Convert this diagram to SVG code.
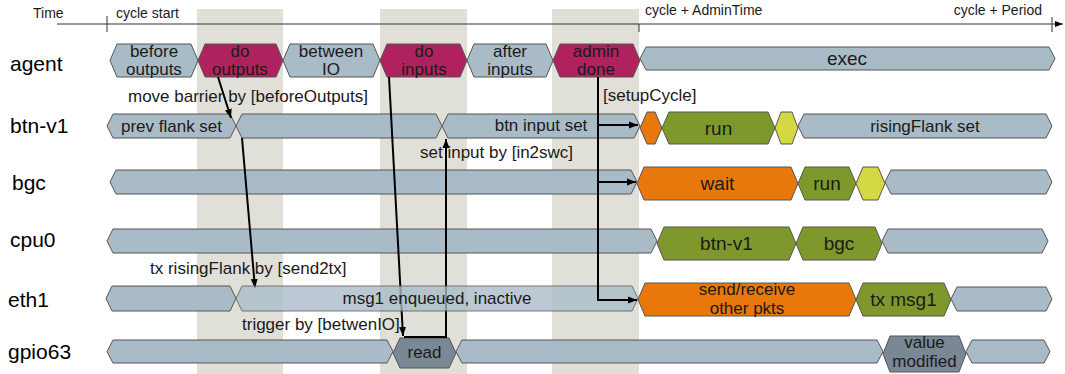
<svg xmlns="http://www.w3.org/2000/svg" width="1065" height="374" viewBox="0 0 1065 374">
<style>
text{font-family:"Liberation Sans",Arial,sans-serif;fill:#1a1a1a}
.ax{font-size:14px}
.lbl{font-size:21px;fill:#000}
.t17{font-size:17px}
.t19{font-size:19px}
.mid{text-anchor:middle}
.b{stroke:#555;stroke-width:1}
.g{fill:#aabbc8}
.m{fill:#b0225e}
.o{fill:#e8780c}
.ol{fill:#7f982c}
.y{fill:#d4d843}
.d{fill:#7a8794}
.col{fill:#e0e0d8}
.cn{fill:none;stroke:#000;stroke-width:2}
</style>
<defs>
<marker id="ah" markerUnits="userSpaceOnUse" markerWidth="9" markerHeight="8" refX="9" refY="4" orient="auto"><path d="M0,0.5 L9,4 L0,7.5 z" fill="#000"/></marker>
<marker id="axh" markerUnits="userSpaceOnUse" markerWidth="8" markerHeight="7" refX="8" refY="3.5" orient="auto"><path d="M0,0.5 L8,3.5 L0,6.5 z" fill="#000"/></marker>
</defs>
<rect width="1065" height="374" fill="#fff"/>
<g id="columns">
<rect class="col" x="197" y="9" width="86" height="365"/>
<rect class="col" x="380" y="9" width="87" height="365"/>
<rect class="col" x="552" y="9" width="87" height="365"/>
</g>
<g id="axis">
<line x1="57" y1="24" x2="1063" y2="24" stroke="#333" stroke-width="1" marker-end="url(#axh)"/>
<line x1="107" y1="16" x2="107" y2="32" stroke="#333"/>
<line x1="639" y1="24" x2="639" y2="32" stroke="#333"/>
<line x1="1052" y1="17" x2="1052" y2="32" stroke="#333"/>
<text class="ax" x="33" y="18">Time</text>
<text class="ax" x="116" y="18">cycle start</text>
<text class="ax" x="645" y="15">cycle + AdminTime</text>
<text class="ax" x="1042" y="15" text-anchor="end">cycle + Period</text>
</g>
<g id="row-labels">
<text class="lbl" x="10" y="71">agent</text>
<text class="lbl" x="10" y="133">btn-v1</text>
<text class="lbl" x="12" y="190">bgc</text>
<text class="lbl" x="10" y="247">cpu0</text>
<text class="lbl" x="8" y="307">eth1</text>
<text class="lbl" x="8" y="359">gpio63</text>
</g>
<g id="agent">
<g id="agent-before-outputs"><polygon class="b g" points="110,60.5 117,44 191,44 198,60.5 191,77 117,77"/><text class="t17 mid" x="154" y="57">before</text><text class="t17 mid" x="154" y="75">outputs</text></g>
<g id="agent-do-outputs"><polygon class="b m" points="198,60.5 205,44 276,44 283,60.5 276,77 205,77"/><text class="t17 mid" x="240" y="57">do</text><text class="t17 mid" x="240" y="75">outputs</text></g>
<g id="agent-between-io"><polygon class="b g" points="283,60.5 290,44 373,44 380,60.5 373,77 290,77"/><text class="t17 mid" x="331" y="57">between</text><text class="t17 mid" x="331" y="75">IO</text></g>
<g id="agent-do-inputs"><polygon class="b m" points="380,60.5 387,44 460,44 467,60.5 460,77 387,77"/><text class="t17 mid" x="424" y="57">do</text><text class="t17 mid" x="424" y="75">inputs</text></g>
<g id="agent-after-inputs"><polygon class="b g" points="467,60.5 474,44 546,44 553,60.5 546,77 474,77"/><text class="t17 mid" x="510" y="57">after</text><text class="t17 mid" x="510" y="75">inputs</text></g>
<g id="agent-admin-done"><polygon class="b m" points="553,60.5 560,44 633,44 640,60.5 633,77 560,77"/><text class="t17 mid" x="596" y="57">admin</text><text class="t17 mid" x="596" y="75">done</text></g>
<g id="agent-exec"><polygon class="b g" points="640,58.5 646,47 1049,47 1055,58.5 1049,70 646,70"/><text class="t19 mid" x="847" y="65">exec</text></g>
</g>
<g id="btn-v1">
<g id="btn-prev-flank"><polygon class="b g" points="107,126 113,114 230,114 236,126 230,138 113,138"/><text class="t17 mid" x="171.5" y="132">prev flank set</text></g>
<g id="btn-blank"><polygon class="b g" points="236,126 242,114 436,114 442,126 436,138 242,138"/></g>
<g id="btn-input-set"><polygon class="b g" points="442,126 448,114 634,114 640,126 634,138 448,138"/><text class="t17 mid" x="541" y="131">btn input set</text></g>
<g id="btn-setup"><polygon class="b o" points="640,128 647,112 655,112 662,128 655,144 647,144"/></g>
<g id="btn-run"><polygon class="b ol" points="662,128 669,112 768,112 775,128 768,144 669,144"/><text class="t19 mid" x="718.5" y="135">run</text></g>
<g id="btn-yellow"><polygon class="b y" points="775,128 781,112 792,112 798,128 792,144 781,144"/></g>
<g id="btn-rising"><polygon class="b g" points="798,126 804,114 1046,114 1052,126 1046,138 804,138"/><text class="t17 mid" x="925" y="132">risingFlank set</text></g>
</g>
<g id="bgc">
<g id="bgc-idle"><polygon class="b g" points="110,182 116,170 631,170 637,182 631,194 116,194"/></g>
<g id="bgc-wait"><polygon class="b o" points="637,183.5 644,167 791,167 798,183.5 791,200 644,200"/><text class="t19 mid" x="717.5" y="190">wait</text></g>
<g id="bgc-run"><polygon class="b ol" points="798,183.5 805,167 849,167 856,183.5 849,200 805,200"/><text class="t19 mid" x="827" y="190">run</text></g>
<g id="bgc-yellow"><polygon class="b y" points="856,183.5 863,167 878,167 885,183.5 878,200 863,200"/></g>
<g id="bgc-after"><polygon class="b g" points="885,182 891,170 1046,170 1052,182 1046,194 891,194"/></g>
</g>
<g id="cpu0">
<g id="cpu0-idle"><polygon class="b g" points="107,241 113,229 651,229 657,241 651,253 113,253"/></g>
<g id="cpu0-btn"><polygon class="b ol" points="657,243.5 664,227 789,227 796,243.5 789,260 664,260"/><text class="t19 mid" x="726.5" y="250">btn-v1</text></g>
<g id="cpu0-bgc"><polygon class="b ol" points="796,243.5 803,227 875,227 882,243.5 875,260 803,260"/><text class="t19 mid" x="839" y="250">bgc</text></g>
<g id="cpu0-after"><polygon class="b g" points="882,241 888,229 1042,229 1048,241 1042,253 888,253"/></g>
</g>
<g id="eth1">
<g id="eth1-prev"><polygon class="b g" points="106,298.5 112,286 230,286 236,298.5 230,311 112,311"/></g>
<g id="eth1-send"><polygon class="b o" points="638,299.5 645,283 849,283 856,299.5 849,316 645,316"/><text class="t17 mid" x="747" y="295">send/receive</text><text class="t17 mid" x="747" y="314">other pkts</text></g>
<g id="eth1-tx"><polygon class="b ol" points="856,299.5 863,283 944,283 951,299.5 944,316 863,316"/><text class="t19 mid" x="903.5" y="306">tx msg1</text></g>
<g id="eth1-after"><polygon class="b g" points="951,299 957,287 1046,287 1052,299 1046,311 957,311"/></g>
</g>
<g id="gpio63">
<g id="gpio-prev"><polygon class="b g" points="107,351.5 113,340 387,340 393,351.5 387,363 113,363"/></g>
<g id="gpio-read"><polygon class="b d" points="393,353 400,338 449,338 456,353 449,368 400,368"/><text class="t17 mid" x="424.5" y="358">read</text></g>
<g id="gpio-mid"><polygon class="b g" points="456,351.5 462,340 877,340 883,351.5 877,363 462,363"/></g>
<g id="gpio-value"><polygon class="b d" points="883,354 890,336 959,336 966,354 959,372 890,372"/><text class="t17 mid" x="924.5" y="348">value</text><text class="t17 mid" x="924.5" y="367">modified</text></g>
<g id="gpio-after"><polygon class="b g" points="966,351.5 972,340 1044,340 1050,351.5 1044,363 972,363"/></g>
</g>
<g id="connectors">
<path class="cn" d="M218,77 L231,118" marker-end="url(#ah)"/>
<path class="cn" d="M242,138 L255,288" marker-end="url(#ah)"/>
<path class="cn" d="M389,77 L403,336" marker-end="url(#ah)"/>
<path class="cn" d="M404,337 L446,337 L446,139" marker-end="url(#ah)"/>
<text class="t17" x="128" y="102">move barrier by [beforeOutputs]</text>
<text class="t17" x="420" y="158">set input by [in2swc]</text>
<text class="t17" x="150" y="274">tx risingFlank by [send2tx]</text>
<text class="t17" x="242" y="330">trigger by [betwenIO]</text>
</g>
<g id="eth1-msg1"><polygon class="b g" opacity="0.78" points="236,298.5 242,286 632,286 638,298.5 632,311 242,311"/><text class="t17 mid" x="437" y="304">msg1 enqueued, inactive</text></g>
<g id="connectors-setup">
<path class="cn" d="M598,77 L598,300 L637,300" marker-end="url(#ah)"/>
<path class="cn" d="M598,125 L638,125" marker-end="url(#ah)"/>
<path class="cn" d="M598,182 L636,182" marker-end="url(#ah)"/>
<text class="t17" x="603" y="101">[setupCycle]</text>
</g>
</svg>
